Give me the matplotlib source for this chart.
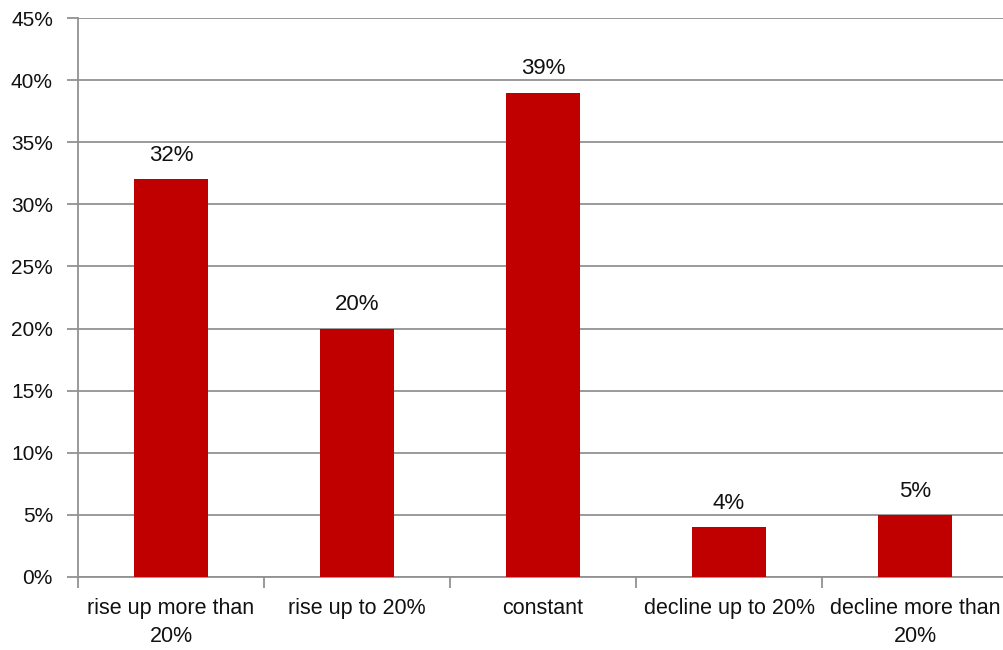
import matplotlib
matplotlib.use("Agg")
import matplotlib.pyplot as plt
from matplotlib.ticker import MultipleLocator, FuncFormatter

categories = ["rise up more than\n20%", "rise up to 20%", "constant", "decline up to 20%", "decline more than\n20%"]
values = [32, 20, 39, 4, 5]

plt.rcParams['font.family'] = ["Liberation Sans", 'DejaVu Sans']

fig = plt.figure(figsize=(10.04, 6.5), dpi=100)
W, H = 1004, 650
left, right, top, bottom = 78, 1008, 18, 577
ax = fig.add_axes([left / W, 1 - bottom / H, (right - left) / W, (bottom - top) / H])

x = list(range(len(values)))
ax.bar(x, values, width=0.4, color="#C00000", zorder=3)
for xi, v in zip(x, values):
    ax.annotate(f"{v}%", (xi, v), xytext=(0, 13), textcoords="offset points",
                ha="center", va="baseline", fontsize=16, color="#111111")

ax.set_ylim(0, 45)
ax.set_xlim(-0.5, len(values) - 0.5)
ax.yaxis.set_major_locator(MultipleLocator(5))
ax.yaxis.set_major_formatter(FuncFormatter(lambda v, p: f"{int(v)}%"))
ax.grid(axis="y", color="#929292", linewidth=1.3, zorder=0)

ax.set_xticks([i - 0.5 for i in range(len(values) + 1)])
ax.set_xticklabels([])
ax.set_xticks(x, minor=True)
ax.set_xticklabels(categories, minor=True, fontsize=15.5, color="#111111", linespacing=1.45)
ax.tick_params(axis="x", which="minor", length=0, pad=15)
ax.tick_params(axis="x", which="major", length=8, color="#929292", width=1.3)
ax.tick_params(axis="y", length=8, color="#929292", width=1.3, labelsize=15, labelcolor="#111111", pad=10)

for s in ["top", "right"]:
    ax.spines[s].set_visible(False)
for s in ["left", "bottom"]:
    ax.spines[s].set_color("#929292")
    ax.spines[s].set_linewidth(1.3)

fig.savefig("out.png", dpi=100)
